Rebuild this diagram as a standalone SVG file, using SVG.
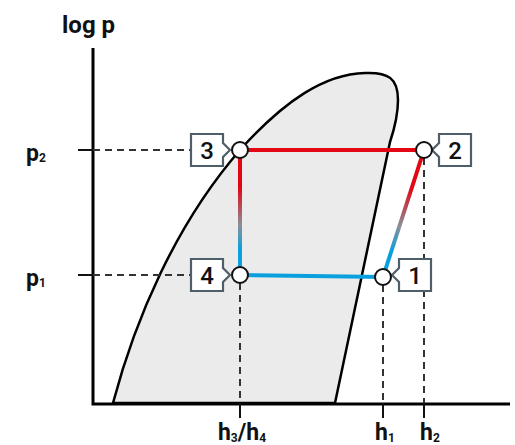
<svg xmlns="http://www.w3.org/2000/svg" width="515" height="445" viewBox="0 0 515 445">
<defs>
<style>
.t{font-family:Roboto,"Liberation Sans",sans-serif;font-weight:700;fill:#111}
.dash{stroke:#333;stroke-width:2;stroke-dasharray:7,5;fill:none}
.tick{stroke:#111;stroke-width:2;fill:none}
.box{fill:#fff;stroke:#4f5f6a;stroke-width:2.2;stroke-linejoin:miter}
.pt{fill:#fff;stroke:#111;stroke-width:2}
.num{font-family:Roboto,"Liberation Sans",sans-serif;font-weight:500;font-size:24px;fill:#111;text-anchor:middle}
</style>
<linearGradient id="g34" gradientUnits="userSpaceOnUse" x1="0" y1="150" x2="0" y2="275">
<stop offset="0.3" stop-color="#e30613"/>
<stop offset="0.6" stop-color="#8a8f9a"/>
<stop offset="0.8" stop-color="#0aa0e0"/>
</linearGradient>
<linearGradient id="g12" gradientUnits="userSpaceOnUse" x1="424" y1="150" x2="383" y2="277">
<stop offset="0.3" stop-color="#e30613"/>
<stop offset="0.6" stop-color="#8a8f9a"/>
<stop offset="0.8" stop-color="#0aa0e0"/>
</linearGradient>
</defs>
<rect width="515" height="445" fill="#fff"/>
<g id="dome">
<path d="M113,403 C135,320 175,225 240,150 C285,100 325,74 365,73 C388,72 398,78 398,100 C398,115 394,130 390,142 L335,403 Z" fill="#ebebeb" stroke="#000" stroke-width="2.5" stroke-linejoin="round"/>
</g>
<g id="axes">
<path d="M93,48 V404 H510" fill="none" stroke="#000" stroke-width="3"/>
<path class="tick" d="M78,150 H93 M78,275 H93 M240,403 V418 M383,403 V418 M424,403 V418"/>
<text class="t" x="62" y="33" font-size="24">log p</text>
<text class="t" x="26" y="161" font-size="23">p<tspan font-size="12" dy="1">2</tspan></text>
<text class="t" x="26" y="286" font-size="23">p<tspan font-size="12" dy="1">1</tspan></text>
<text class="t" x="242" y="440" font-size="23" text-anchor="middle">h<tspan font-size="12" dy="2">3</tspan><tspan dy="-2">/h</tspan><tspan font-size="12" dy="2">4</tspan></text>
<text class="t" x="385" y="440" font-size="23" text-anchor="middle">h<tspan font-size="12" dy="2">1</tspan></text>
<text class="t" x="430" y="440" font-size="23" text-anchor="middle">h<tspan font-size="12" dy="2">2</tspan></text>
</g>
<g id="connectors">
<path class="dash" d="M93,150 H191 M93,275 H191 M240,283 V403 M383,285 V403 M424,158 V403"/>
<path d="M240,150 H424" stroke="#e30613" stroke-width="4" fill="none"/>
<path d="M240,275 L383,277" stroke="#0aa0e0" stroke-width="4" fill="none"/>
<path d="M240,150 V275" stroke="url(#g34)" stroke-width="4" fill="none"/>
<path d="M383,277 L424,150" stroke="url(#g12)" stroke-width="4" fill="none"/>
</g>
<g id="node3">
<path class="box" d="M191,134 H223 V143 L230,150 L223,157 V166 H191 Z"/>
<text class="num" x="207" y="158.5">3</text>
<circle class="pt" cx="240" cy="150" r="8"/>
</g>
<g id="node2">
<path class="box" d="M471,134 H439 V143 L432,150 L439,157 V166 H471 Z"/>
<text class="num" x="455" y="158.5">2</text>
<circle class="pt" cx="424" cy="150" r="8"/>
</g>
<g id="node4">
<path class="box" d="M191,259 H223 V268 L230,275 L223,282 V291 H191 Z"/>
<text class="num" x="207" y="283.5">4</text>
<circle class="pt" cx="240" cy="275" r="8"/>
</g>
<g id="node1">
<path class="box" d="M431,259 H399 V268 L392,275 L399,282 V291 H431 Z"/>
<text class="num" x="415" y="283.5">1</text>
<circle class="pt" cx="383" cy="277" r="8"/>
</g>
</svg>
